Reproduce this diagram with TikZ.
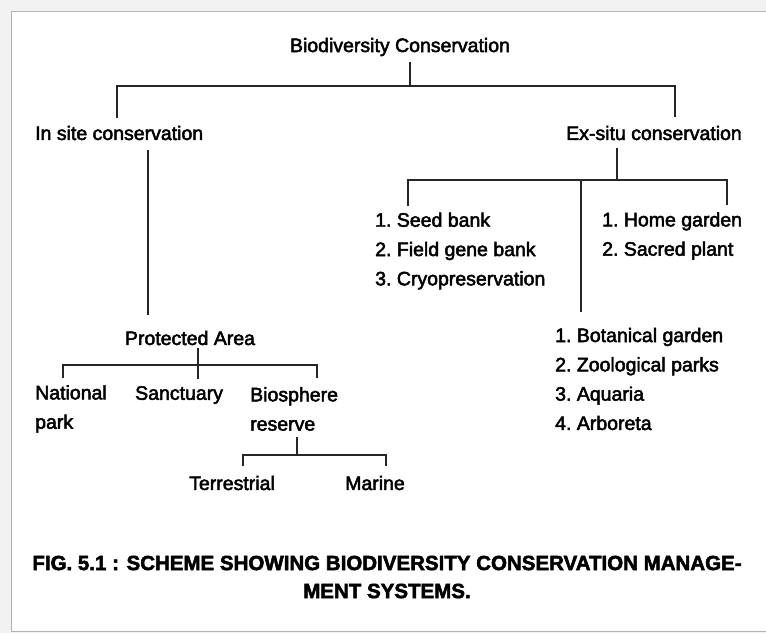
\documentclass[tikz,border=0pt]{standalone}
\usepackage{fontspec}
\setmainfont[FakeBold=2.5]{Liberation Sans}
\begin{document}
\begin{tikzpicture}[x=1pt,y=-1pt,
  lbl/.style={inner sep=0pt,font=\fontsize{19.5}{22}\selectfont},
  lst/.style={inner sep=0pt,anchor=west,align=left,font=\fontsize{19.5}{29.3}\selectfont},
  captext/.style={inner sep=0pt,font=\bfseries\fontsize{20.5}{28}\selectfont},
  link/.style={line width=2.3pt,black!85}]
\useasboundingbox (0,0) rectangle (766,633);
\fill[black!5] (0,0) rectangle (766,633);
\fill[white] (11,11) rectangle (766,631);
\draw[black!30,line width=1pt] (766,11) -- (11,11) -- (11,631) -- (766,631);
% main
\node[lbl] (bc) at (400,47) {Biodiversity Conservation};
\node[lbl,anchor=west] (in) at (35,133) {In site conservation};
\node[lbl,anchor=east] (ex) at (742,133) {Ex-situ conservation};
\coordinate (b1) at (410,86);
\draw[link] (410,62) -- (b1);
\draw[link] (117,118) coordinate (inTop) |- (675,86) coordinate (rr) -- (675,117) coordinate (exTop);
% ex-situ
\node[lst] (l1) at (375,251) {1.\ Seed bank\\2.\ Field gene bank\\3.\ Cryopreservation};
\node[lst] (l2) at (602,236) {1.\ Home garden\\2.\ Sacred plant};
\node[lst] (l3) at (555,379) {1.\ Botanical garden\\2.\ Zoological parks\\3.\ Aquaria\\4.\ Arboreta};
\coordinate (e1) at (617,148);
\coordinate (e2) at (617,180);
\draw[link] (e1) -- (e2);
\draw[link] (408,206) |- (727,180) -- (727,205);
\draw[link] (581,180) -- (581,312);
% in situ
\node[lbl] (pa) at (190,338) {Protected Area};
\draw[link] (148,150) -- (148,315);
\draw[link] (198,348) -- (198,379);
\draw[link] (63,378) |- (317,365) -- (317,378);
\node[lst] (np) at (35,409) {National\\park};
\node[lbl,anchor=west] (sa) at (135,395) {Sanctuary};
\node[lst] (br) at (250,409) {Biosphere\\reserve};
\draw[link] (297,437) -- (297,455);
\draw[link] (243,466) |- (386,455) -- (386,466);
\node[lbl] (te) at (232,483) {Terrestrial};
\node[lbl] (ma) at (375,483) {Marine};
% caption
\node[captext,align=center] (fig) at (387,577) {FIG. 5.1 : SCHEME SHOWING BIODIVERSITY CONSERVATION MANAGE-\\MENT SYSTEMS.};
\end{tikzpicture}
\end{document}
